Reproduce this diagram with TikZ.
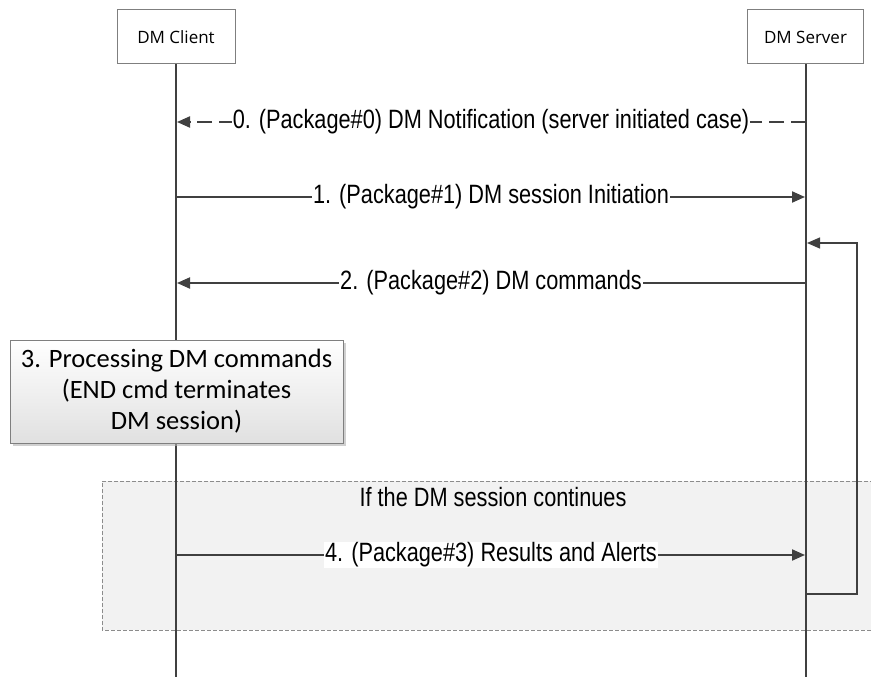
\documentclass[tikz,border=0pt]{standalone}
\usepackage{fontspec}
\setmainfont{Liberation Sans}
\newfontfamily\lblfont[FakeStretch=0.82]{Liberation Sans}
\newfontfamily\hdrfont{Open Sans}
\newfontfamily\calfont{Carlito}
\usetikzlibrary{arrows.meta,shadows}
\definecolor{ln}{HTML}{404040}
\definecolor{bx}{HTML}{7F7F7F}
\definecolor{grp}{HTML}{F2F2F2}
\begin{document}
\begin{tikzpicture}[x=1pt,y=-1pt,
  hdr/.style={draw=bx, line width=1pt, fill=white, minimum height=54pt, inner sep=0pt,
              font=\hdrfont\fontsize{17}{20}\selectfont},
  life/.style={draw=ln, line width=2pt},
  msg/.style={draw=ln, line width=2pt, -{Triangle[length=13pt,width=11pt]}, shorten >=1pt},
  lbl/.style={fill=white, inner sep=1pt, text=black, font=\lblfont\fontsize{26.5}{30}\selectfont},
  grpline/.style={draw=black!45, line width=1pt, dash pattern=on 4pt off 2pt},
  procbox/.style={draw=bx, line width=1pt, top color=white, bottom color=black!12,
                  drop shadow={shadow xshift=3pt, shadow yshift=-3pt, fill=black!30, opacity=0.6},
                  minimum width=333pt, minimum height=103pt, align=center, inner sep=0pt,
                  font=\calfont\fontsize{26.5}{31}\selectfont},
  loopln/.style={draw=ln, line width=1.2pt, -{Triangle[length=13pt,width=11pt]}, shorten >=1pt}
]
\path[fill=white] (0,0) rectangle (871,677);
\useasboundingbox (0,0) rectangle (871,677);

% group background
\path[fill=grp] (102,481) rectangle (875,630);
\draw[grpline] (880,481) -- (102,481) -- (102,630) -- (880,630);
\node[font=\lblfont\fontsize{26.5}{30}\selectfont] (cont) at (493,497) {If the DM session continues};

% headers
\node[hdr, minimum width=118pt] (client) at (176,37) {DM Client};
\node[hdr, minimum width=116pt] (server) at (805.5,37) {DM Server};
\coordinate (cbot) at (176,677);
\coordinate (sbot) at (806,677);
\draw[life] (client.south) -- (cbot);
\draw[life] (server.south -| sbot) -- (sbot);

% message anchors
\coordinate (c0) at (176,122); \coordinate (s0) at (806,122);
\coordinate (c1) at (176,197); \coordinate (s1) at (806,197);
\coordinate (c2) at (176,283); \coordinate (s2) at (806,283);
\coordinate (c4) at (176,555); \coordinate (s4) at (806,555);
\coordinate (lpa) at (806,594); \coordinate (lpb) at (806,243);

\draw[msg, dash pattern=on 15pt off 7pt] (s0) -- node[lbl] (m0) {0. (Package\#0) DM Notification (server initiated case)} (c0);
\draw[msg] (c1) -- node[lbl] (m1) {1. (Package\#1) DM session Initiation} (s1);
\draw[msg] (s2) -- node[lbl] (m2) {2. (Package\#2) DM commands} (c2);
\draw[msg] (c4) -- node[lbl] (m4) {4. (Package\#3) Results and Alerts} (s4);

% loop back
\draw[loopln] (lpa) -- ++(51,0) |- (lpb);

% processing box
\node[procbox] (proc) at (176.5,391.5) {3. Processing DM commands\\(END cmd terminates\\DM session)};
\end{tikzpicture}
\end{document}
